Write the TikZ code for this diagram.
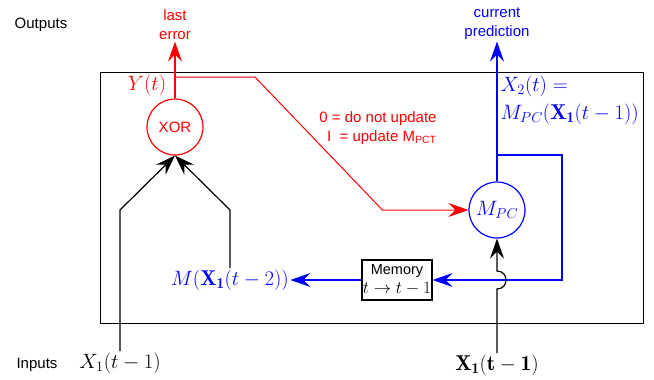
\documentclass[tikz,border=0pt]{standalone}
\usepackage{fontspec}
\setsansfont{Liberation Sans}
\usetikzlibrary{arrows.meta}
\usetikzlibrary{calc}

\begin{document}
\begin{tikzpicture}[x=1pt,y=-1pt,line width=1.2pt,>={Stealth[length=20pt,width=14pt,inset=7pt]}]
  \tikzstyle{txt}=[font=\sffamily\fontsize{15}{19}\selectfont,align=center,inner sep=1pt]
  \tikzstyle{eq}=[font=\fontsize{21.5}{28}\selectfont,inner sep=1pt]
  \tikzstyle{unit}=[circle,draw,minimum size=56pt,inner sep=0pt]
  \tikzstyle{flow}=[->]
  \useasboundingbox (0,0) rectangle (654,380);

  \node[draw,minimum width=543pt,minimum height=251pt,anchor=north west] (frame) at (100,72) {};
  \node[txt]                (outputs) at (41,25)   {Outputs};
  \node[txt]                (inputs)  at (37,365)  {Inputs};
  \node[txt,red]            (lasterr) at (175,25)  {last\\error};
  \node[txt,blue]           (curpred) at (497,24)  {current\\prediction};

  \node[unit,red,txt]       (xor)     at (175,127) {XOR};
  \node[unit,blue,font=\fontsize{20}{24}\selectfont] (mpc) at (497,210) {$M_{PC}$};
  \node[draw,minimum width=70pt,minimum height=40pt,inner sep=0pt,align=center]
                            (memory)  at (397,280) {\sffamily\fontsize{14.5}{14}\selectfont Memory\\[4pt]
                                                    \fontsize{16}{14}\selectfont$t\to t-1$};

  \node[eq,red]             (yt)      at (147,85)  {$Y(t)$};
  \node[eq,blue,align=left,anchor=north west] (pred) at (499,74)
                            {$X_2(t) =$\\$M_{PC}(\mathbf{X_1}(t-1))$};
  \node[txt,red,align=right] (update) at (378,128) {0 = do not update\\I\ \ = update M\textsubscript{PCT}};
  \node[eq,blue]            (mx)      at (230,280) {$M(\mathbf{X_1}(t-2))$};
  \node[eq]                 (x1)      at (120,363) {$X_1(t-1)$};
  \node[eq]                 (x1b)     at (497,365) {$\mathbf{X_1(t-1)}$};

  \coordinate (ytap) at (xor.north |- 0,77);
  \coordinate (ptap) at (mpc.north |- 0,155);
  \coordinate (hop)  at (mpc.south |- memory.east);

  % outputs
  \draw[flow,red]  (xor.north) -- (lasterr.south);
  \draw[flow,blue] (mpc.north) -- (curpred.south);

  % update signal
  \draw[flow,red,line width=1pt] (ytap) -- ++(80,0) -- ([xshift=-86pt]mpc.west) -- (mpc.west);

  % memory loop
  \draw[flow,blue] (ptap) -- ++(65,0) |- (memory.east);
  \draw[flow,blue] (memory.west) -- (mx.east);

  % inputs to XOR
  \draw[flow] (x1.north) -- (x1.north |- mpc) -- (xor.south);
  \draw[flow] (mx.north) -- (mx.north |- mpc) -- (xor.south);

  % input to predictor
  \draw[flow] (x1b.north) -- ([yshift=-9pt]hop) .. controls +(12,0) and +(12,0) .. ([yshift=9pt]hop) -- (mpc.south);
\end{tikzpicture}
\end{document}
